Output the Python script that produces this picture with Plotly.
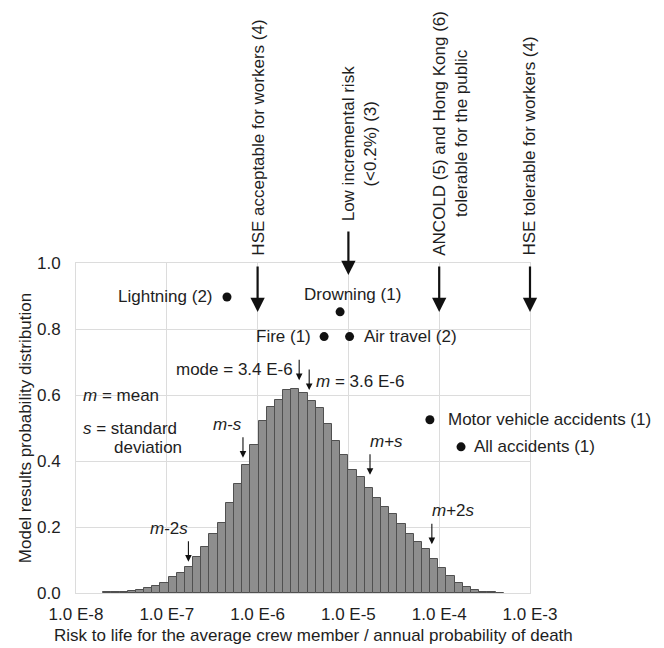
import numpy as np
import plotly.graph_objects as go

# ---------------- data ----------------
# histogram on a log10 risk grid
bin_start_log10 = -7.7
bin_width_log10 = 0.09
bar_heights = [0.002, 0.003, 0.004, 0.006, 0.009, 0.014, 0.022, 0.031, 0.047, 0.060,
               0.079, 0.108, 0.140, 0.179, 0.211, 0.272, 0.330, 0.388, 0.448, 0.520,
               0.564, 0.586, 0.615, 0.617, 0.607, 0.582, 0.562, 0.511, 0.462, 0.418,
               0.373, 0.351, 0.317, 0.288, 0.260, 0.238, 0.208, 0.180, 0.156, 0.132,
               0.102, 0.077, 0.052, 0.031, 0.017, 0.009, 0.004, 0.002, 0.001]

# reference risks (dots)
point_labels = ["Lightning (2)", "Drowning (1)", "Fire (1)", "Air travel (2)",
                "Motor vehicle accidents (1)", "All accidents (1)"]
point_risk = [4.6e-7, 8.1e-6, 5.4e-6, 1.03e-5, 7.9e-5, 1.74e-4]
point_y = [0.897, 0.852, 0.777, 0.777, 0.525, 0.443]

# risk criteria (arrows from the top)
criteria_labels = ["HSE acceptable for workers (4)",
                   "Low incremental risk<br>(<0.2%) (3)",
                   "ANCOLD (5) and Hong Kong (6)<br>tolerable for the public",
                   "HSE tolerable for workers (4)"]
criteria_risk = [1e-6, 1e-5, 1e-4, 1e-3]

# statistics markers
stat_labels = ["<i>m</i>-2<i>s</i>", "<i>m</i>-<i>s</i>", "mode = 3.4 E-6",
               "<i>m</i> = 3.6 E-6", "<i>m</i>+<i>s</i>", "<i>m</i>+2<i>s</i>"]
stat_arrow_risk = [1.73e-7, 6.9e-7, 2.87e-6, 3.7e-6, 1.73e-5, 8.3e-5]
stat_arrow_tip = [0.095, 0.41, 0.645, 0.615, 0.358, 0.148]

x_tick_values = [1e-8, 1e-7, 1e-6, 1e-5, 1e-4, 1e-3]
x_tick_text = ["1.0 E-8", "1.0 E-7", "1.0 E-6", "1.0 E-5", "1.0 E-4", "1.0 E-3"]
y_tick_values = [0.0, 0.2, 0.4, 0.6, 0.8, 1.0]
y_tick_text = ["0.0", "0.2", "0.4", "0.6", "0.8", "1.0"]

# ---------------- figure ----------------
FONT = "Liberation Sans, Arial, sans-serif"
TXT = "#1e1e1e"
FS = 17

n = len(bar_heights)
bin_centers = bin_start_log10 + bin_width_log10 * (np.arange(n) + 0.5)

fig = go.Figure()
fig.add_trace(go.Bar(x=bin_centers, y=bar_heights, width=bin_width_log10,
                     marker=dict(color="#8e8e8e", line=dict(color="#505050", width=1)),
                     hoverinfo="skip", showlegend=False))
fig.add_trace(go.Scatter(x=np.log10(point_risk), y=point_y, mode="markers",
                         marker=dict(color="#111111", size=9),
                         hoverinfo="skip", showlegend=False))

ann = []
# dot labels: (xanchor, xshift, yshift)
label_pos = [("right", -12, 0), ("center", 12, 17), ("right", -11, 0),
             ("left", 12, 0), ("left", 16, 0), ("left", 11, 0)]
for lab, r, yv, (xa, xs, ys) in zip(point_labels, point_risk, point_y, label_pos):
    ann.append(dict(x=np.log10(r), y=yv, xref="x", yref="y", text=lab, showarrow=False,
                    xanchor=xa, yanchor="middle", xshift=xs, yshift=ys,
                    font=dict(family=FONT, size=FS, color=TXT)))

# criteria: rotated texts + arrows
crit_arrow = [(0.8515, -47), (0.9636, -45), (0.8515, -47), (0.8515, -47)]
crit_text_bottom = [1.015, 1.12, 1.015, 1.015]
crit_xshift = [0, 11, 11, 0]
for lab, r, (tip, ay), yb, xs in zip(criteria_labels, criteria_risk, crit_arrow,
                                     crit_text_bottom, crit_xshift):
    ann.append(dict(x=np.log10(r), y=yb, xref="x", yref="paper", text=lab, showarrow=False,
                    textangle=-90, xanchor="center", yanchor="bottom", xshift=xs,
                    align="center", font=dict(family=FONT, size=FS, color=TXT)))
    ann.append(dict(x=np.log10(r), y=tip, xref="x", yref="paper", text="", showarrow=True,
                    ax=0, ay=ay, arrowhead=2, arrowsize=1.3, arrowwidth=2.2,
                    arrowcolor="#111111"))

# statistic arrows + labels
stat_text_pos = [("right", 2, 22, "bottom"), ("right", 1, 22, "bottom"),
                 ("right", -4, 11, "middle"), ("left", 5, 9, "middle"),
                 ("left", -2, 22, "bottom"), ("left", -2, 22, "bottom")]
for lab, r, tip, (xa, xs, ys, ya) in zip(stat_labels, stat_arrow_risk, stat_arrow_tip,
                                         stat_text_pos):
    ann.append(dict(x=np.log10(r), y=tip, xref="x", yref="y", text="", showarrow=True,
                    ax=0, ay=-22, arrowhead=2, arrowsize=1.2, arrowwidth=1.1,
                    arrowcolor="#111111"))
    ann.append(dict(x=np.log10(r), y=tip, xref="x", yref="y", text=lab, showarrow=False,
                    xanchor=xa, yanchor=ya, xshift=xs, yshift=ys,
                    font=dict(family=FONT, size=FS, color=TXT)))

# m / s legend
ann.append(dict(x=0.011, y=0.60, xref="paper", yref="y", text="<i>m</i> = mean",
                showarrow=False, xanchor="left", yanchor="middle",
                font=dict(family=FONT, size=FS, color=TXT)))
ann.append(dict(x=0.011, y=0.50, xref="paper", yref="y", text="<i>s</i> = standard",
                showarrow=False, xanchor="left", yanchor="middle",
                font=dict(family=FONT, size=FS, color=TXT)))
ann.append(dict(x=0.079, y=0.44, xref="paper", yref="y", text="deviation",
                showarrow=False, xanchor="left", yanchor="middle",
                font=dict(family=FONT, size=FS, color=TXT)))

# axis titles
ann.append(dict(x=0.524, y=-0.13, xref="paper", yref="paper",
                text="Risk to life for the average crew member / annual probability of death",
                showarrow=False, xanchor="center", yanchor="middle",
                font=dict(family=FONT, size=FS, color=TXT)))
ann.append(dict(x=-0.112, y=0.5, xref="paper", yref="paper",
                text="Model results probability distribution", textangle=-90,
                showarrow=False, xanchor="center", yanchor="middle",
                font=dict(family=FONT, size=FS, color=TXT)))

GRID = "#dcdcdc"
fig.update_layout(
    width=664, height=648,
    margin=dict(l=76, r=134, t=263, b=55),
    paper_bgcolor="white", plot_bgcolor="white",
    bargap=0, annotations=ann,
    font=dict(family=FONT, size=FS, color=TXT),
    xaxis=dict(range=[-8, -3], tickvals=np.log10(x_tick_values), ticktext=x_tick_text,
               showgrid=True, gridcolor=GRID, gridwidth=1, zeroline=False,
               showline=True, linecolor=GRID, mirror=True, ticks="",
               ticklabelstandoff=6, tickfont=dict(family=FONT, size=FS, color=TXT)),
    yaxis=dict(range=[0, 1], tickvals=y_tick_values, ticktext=y_tick_text,
               showgrid=True, gridcolor=GRID, gridwidth=1, zeroline=False,
               showline=True, linecolor=GRID, mirror=True, ticks="",
               ticklabelstandoff=11, tickfont=dict(family=FONT, size=FS, color=TXT)),
)

fig.write_html("out.html")
